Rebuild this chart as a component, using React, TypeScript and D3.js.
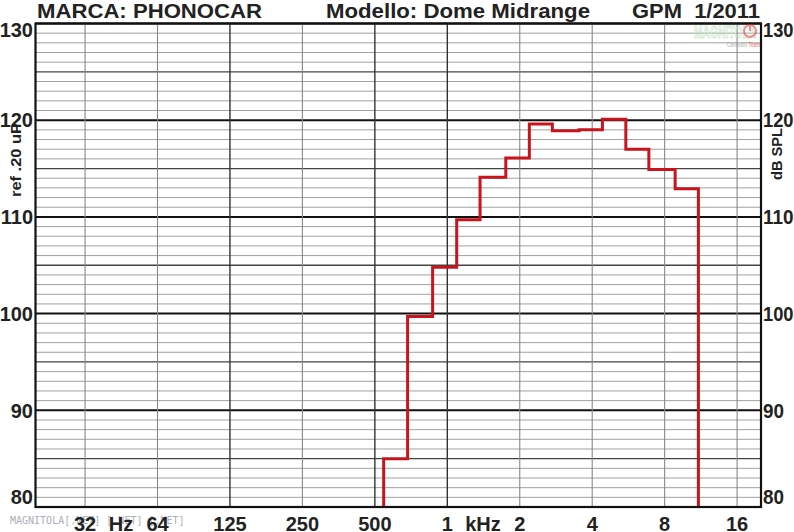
import React from "react";
import * as d3 from "d3";

const W = 794;
const H = 532;

// Frequency grid (octaves) and labels
const octaveFreqs = [31.25, 62.5, 125, 250, 500, 1000, 2000, 4000, 8000, 16000];
const octaveLabels = ["32", "64", "125", "250", "500", "1", "2", "4", "8", "16"];
const darkOctaves = [125, 500, 1000];

// dB ticks
const dbTicks = [80, 90, 100, 110, 120, 130];

// 1/3-octave band edges (Hz) and levels (dB SPL)
const bandEdges = [544, 684, 869, 1094, 1368, 1750, 2192, 2732, 3528, 4411, 5518, 6878, 8845, 11050];
const bandLevels = [85.0, 99.7, 104.8, 109.7, 114.1, 116.1, 119.6, 118.9, 119.0, 120.1, 117.0, 114.9, 112.9];

const titleLeft = "MARCA: PHONOCAR";
const titleMid = "Modello: Dome Midrange";
const titleRight = "GPM  1/2011";

export default function App() {
  const left = 35.5, right = 761, top = 23.5, bottom = 507;
  const x = d3.scaleLog().domain([19.45, 20110]).range([left, right]);
  const y = d3.scaleLinear().domain([80, 130]).range([bottom, top]);

  const font = "'Liberation Sans', Arial, Helvetica, sans-serif";

  const dbLines = d3.range(80, 131, 1);

  const pts: [number, number][] = [];
  pts.push([bandEdges[0], 80]);
  bandLevels.forEach((lv, i) => {
    pts.push([bandEdges[i], lv]);
    pts.push([bandEdges[i + 1], lv]);
  });
  pts.push([bandEdges[bandEdges.length - 1], 80]);
  const line = d3
    .line<[number, number]>()
    .x((d) => x(d[0]))
    .y((d) => y(d[1]));

  const labelY = (v: number) => {
    const yy = y(v);
    return Math.min(Math.max(yy, top + 6), bottom - 10);
  };

  return (
    <svg
      width={W}
      height={H}
      style={{ position: "absolute", left: 0, top: 0, background: "#fff" }}
      fontFamily={font}
    >
      <rect x={0} y={0} width={W} height={H} fill="#fff" />

      {/* horizontal grid */}
      {dbLines.map((v) => {
        const major = v % 10 === 0;
        const mid = v % 5 === 0 && !major;
        return (
          <line
            key={"h" + v}
            x1={left}
            x2={right}
            y1={y(v)}
            y2={y(v)}
            stroke={major ? "#111" : mid ? "#444" : "#a0a0a0"}
            strokeWidth={major ? 2 : mid ? 1.3 : 1}
          />
        );
      })}

      {/* vertical grid */}
      {octaveFreqs.map((f) => (
        <line
          key={"v" + f}
          x1={x(f)}
          x2={x(f)}
          y1={top}
          y2={bottom}
          stroke={darkOctaves.includes(f) ? "#333" : "#888"}
          strokeWidth={darkOctaves.includes(f) ? 1.4 : 1.1}
        />
      ))}

      {/* response */}
      <path
        d={line(pts) || ""}
        fill="none"
        stroke="#c8141c"
        strokeWidth={3}
        strokeLinejoin="miter"
      />

      {/* frame */}
      <rect
        x={left}
        y={top}
        width={right - left}
        height={bottom - top}
        fill="none"
        stroke="#111"
        strokeWidth={2.2}
      />

      {/* titles */}
      <text x={37} y={17.5} fontSize={20} fontWeight="bold" fill="#222" textLength={225} lengthAdjust="spacingAndGlyphs">
        {titleLeft}
      </text>
      <text x={326} y={17.5} fontSize={20} fontWeight="bold" fill="#222" textLength={264} lengthAdjust="spacingAndGlyphs">
        {titleMid}
      </text>
      <text x={632} y={17.5} fontSize={20} fontWeight="bold" fill="#222" textLength={128} lengthAdjust="spacingAndGlyphs" style={{ whiteSpace: "pre" }}>
        {titleRight}
      </text>

      {/* watermark logo top right */}
      <g opacity={0.55}>
        <text x={694} y={38} fontSize={17} fontWeight="bold" fill="#eef8ee" stroke="#9fd19f" strokeWidth={0.8} textLength={62} lengthAdjust="spacingAndGlyphs">
          MAGNITOLA
        </text>
        <circle cx={750} cy={31} r={6} fill="none" stroke="#e0303c" strokeWidth={2} />
        <line x1={750} x2={750} y1={25} y2={31} stroke="#e0303c" strokeWidth={2} />
        <text x={727} y={47} fontSize={6.5} fontWeight="bold" fill="#999" textLength={33} lengthAdjust="spacingAndGlyphs">
          CarAudio
          <tspan fill="#e0303c"> Team</tspan>
        </text>
      </g>

      {/* left / right dB labels */}
      {dbTicks.map((v) => (
        <g key={"l" + v}>
          <text x={33} y={labelY(v)} dy="0.36em" textAnchor="end" fontSize={20} fontWeight="bold" fill="#222">
            {v}
          </text>
          <text
            x={763}
            y={labelY(v)}
            dy="0.36em"
            textAnchor="start"
            fontSize={20}
            fontWeight="bold"
            fill="#222"
            textLength={v >= 100 ? 30.5 : 21}
            lengthAdjust="spacingAndGlyphs"
          >
            {v}
          </text>
        </g>
      ))}

      {/* axis titles */}
      <text transform={`translate(21,160) rotate(-90)`} textAnchor="middle" fontSize={15} fontWeight="bold" fill="#222" textLength={74} lengthAdjust="spacingAndGlyphs">
        ref .20 uP
      </text>
      <text transform={`translate(782,154) rotate(-90)`} textAnchor="middle" fontSize={15} fontWeight="bold" fill="#222" textLength={52} lengthAdjust="spacingAndGlyphs">
        dB SPL
      </text>

      {/* bottom watermark */}
      <text x={10} y={524} fontSize={10} fontFamily="'DejaVu Sans Mono', monospace" fill="#aab0b8">
        MAGNITOLA[.NET] [.NET] [.NET]
      </text>

      {/* frequency labels */}
      {octaveFreqs.map((f, i) => (
        <text key={"f" + f} x={x(f)} y={531} textAnchor="middle" fontSize={20} fontWeight="bold" fill="#222">
          {octaveLabels[i]}
        </text>
      ))}
      <text x={121} y={531} textAnchor="middle" fontSize={20} fontWeight="bold" fill="#222">
        Hz
      </text>
      <text x={483} y={531} textAnchor="middle" fontSize={20} fontWeight="bold" fill="#222">
        kHz
      </text>
    </svg>
  );
}
